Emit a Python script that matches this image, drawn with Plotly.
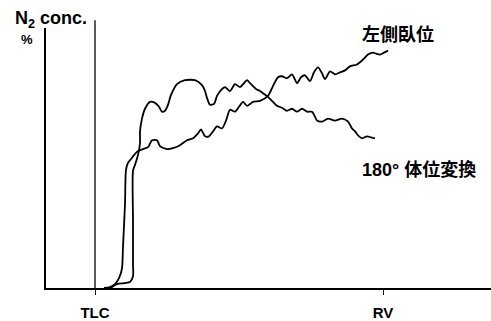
import plotly.graph_objects as go

# Expired volume from TLC (arbitrary units) and N2 concentration (arbitrary units)
lateral_vol = [9, 15, 20, 24, 27, 28, 30, 31, 33, 36, 39, 43, 48, 53, 57, 62, 65, 72, 78, 85,
               92, 98, 103, 106, 110, 114, 118, 122, 127, 131, 135, 140, 144, 148, 152, 158,
               165, 173, 178, 183, 187, 192, 197, 202, 206, 210, 215, 219, 223, 227, 230, 235,
               240, 245, 250, 255, 262, 268, 273, 278, 281, 285, 289, 293]
lateral_n2 = [0, 1, 4, 10, 20, 42, 85, 120, 127, 131, 135, 139, 141, 143, 150, 150, 144, 141, 142, 145,
              150, 152, 157, 161, 154, 154, 159, 164, 162, 170, 181, 179, 184, 189, 185, 189,
              190, 195, 205, 214, 215, 213, 217, 208, 214, 216, 210, 219, 224, 218, 212, 220,
              217, 219, 221, 225, 227, 232, 237, 239, 238, 237, 239, 241]

turned_vol = [9, 15, 22, 30, 35, 38, 38, 38, 38, 40, 43, 45, 45, 47, 50, 55, 60, 64, 67, 70,
              73, 76, 82, 90, 100, 107, 110, 112, 115, 119, 122, 126, 130, 135, 140, 145, 149,
              152, 155, 158, 161, 165, 169, 173, 178, 182, 187, 192, 197, 202, 207, 212, 217,
              220, 222, 227, 233, 240, 247, 253, 257, 260, 263, 267, 272, 276, 280]
turned_n2 = [0, 0, 4, 5, 6, 12, 25, 69, 119, 125, 135, 147, 159, 172, 182, 189, 188, 184, 179, 180,
             186, 196, 207, 211, 211, 206, 200, 193, 186, 187, 195, 201, 204, 200, 207, 204, 208,
             211, 208, 205, 202, 200, 197, 194, 189, 185, 183, 180, 182, 179, 182, 179, 179,
             174, 170, 169, 172, 170, 172, 169, 162, 159, 155, 152, 154, 153, 152]

tick_vals = [0, 288]
tick_text = ["<b>TLC</b>", "<b>RV</b>"]

label_lateral = "<b>左側臥位</b>"
label_turned = "<b>180° 体位変換</b>"

font_family = "Liberation Sans, Noto Sans CJK JP, sans-serif"
line_style = dict(color="black", width=1.8, shape="spline", smoothing=0.7)

fig = go.Figure()
fig.add_trace(go.Scatter(x=lateral_vol, y=lateral_n2, mode="lines", line=line_style,
                         name="左側臥位", showlegend=False, hoverinfo="skip"))
fig.add_trace(go.Scatter(x=turned_vol, y=turned_n2, mode="lines", line=line_style,
                         name="180° 体位変換", showlegend=False, hoverinfo="skip"))

# TLC marker line rising above the plotting area
fig.add_shape(type="line", xref="x", yref="paper", x0=0, x1=0, y0=0, y1=1.03,
              line=dict(color="black", width=1.3))

fig.add_annotation(xref="paper", yref="paper", x=-0.0742, y=1.034, xanchor="left", yanchor="middle",
                   text="<b>N<sub>2</sub> conc.</b>", showarrow=False,
                   font=dict(family=font_family, size=18, color="black"))
fig.add_annotation(xref="paper", yref="paper", x=-0.0427, y=0.9545, xanchor="center", yanchor="middle",
                   text="<b>%</b>", showarrow=False,
                   font=dict(family=font_family, size=13, color="black"))
fig.add_annotation(xref="paper", yref="paper", x=0.7056, y=0.9735, xanchor="left", yanchor="middle",
                   text=label_lateral, showarrow=False,
                   font=dict(family=font_family, size=18, color="black"))
fig.add_annotation(xref="paper", yref="paper", x=0.7056, y=0.4545, xanchor="left", yanchor="middle",
                   text=label_turned, showarrow=False,
                   font=dict(family=font_family, size=18, color="black"))

fig.update_layout(
    width=491, height=321,
    margin=dict(l=46, r=0, t=28, b=29),
    paper_bgcolor="white", plot_bgcolor="white",
    font=dict(family=font_family, color="black"),
    xaxis=dict(range=[-49, 396], showgrid=False, zeroline=False, showline=True,
               linecolor="black", linewidth=1.5, ticks="outside", ticklen=5, tickwidth=1.2,
               tickcolor="black", tickvals=tick_vals, ticktext=tick_text,
               tickfont=dict(size=15, family=font_family, color="black"),
               ticklabelstandoff=5, fixedrange=True),
    yaxis=dict(range=[0, 264], showgrid=False, zeroline=False, showline=True,
               linecolor="black", linewidth=1.5, showticklabels=False, ticks="",
               fixedrange=True),
)

fig.write_html("out.html")
